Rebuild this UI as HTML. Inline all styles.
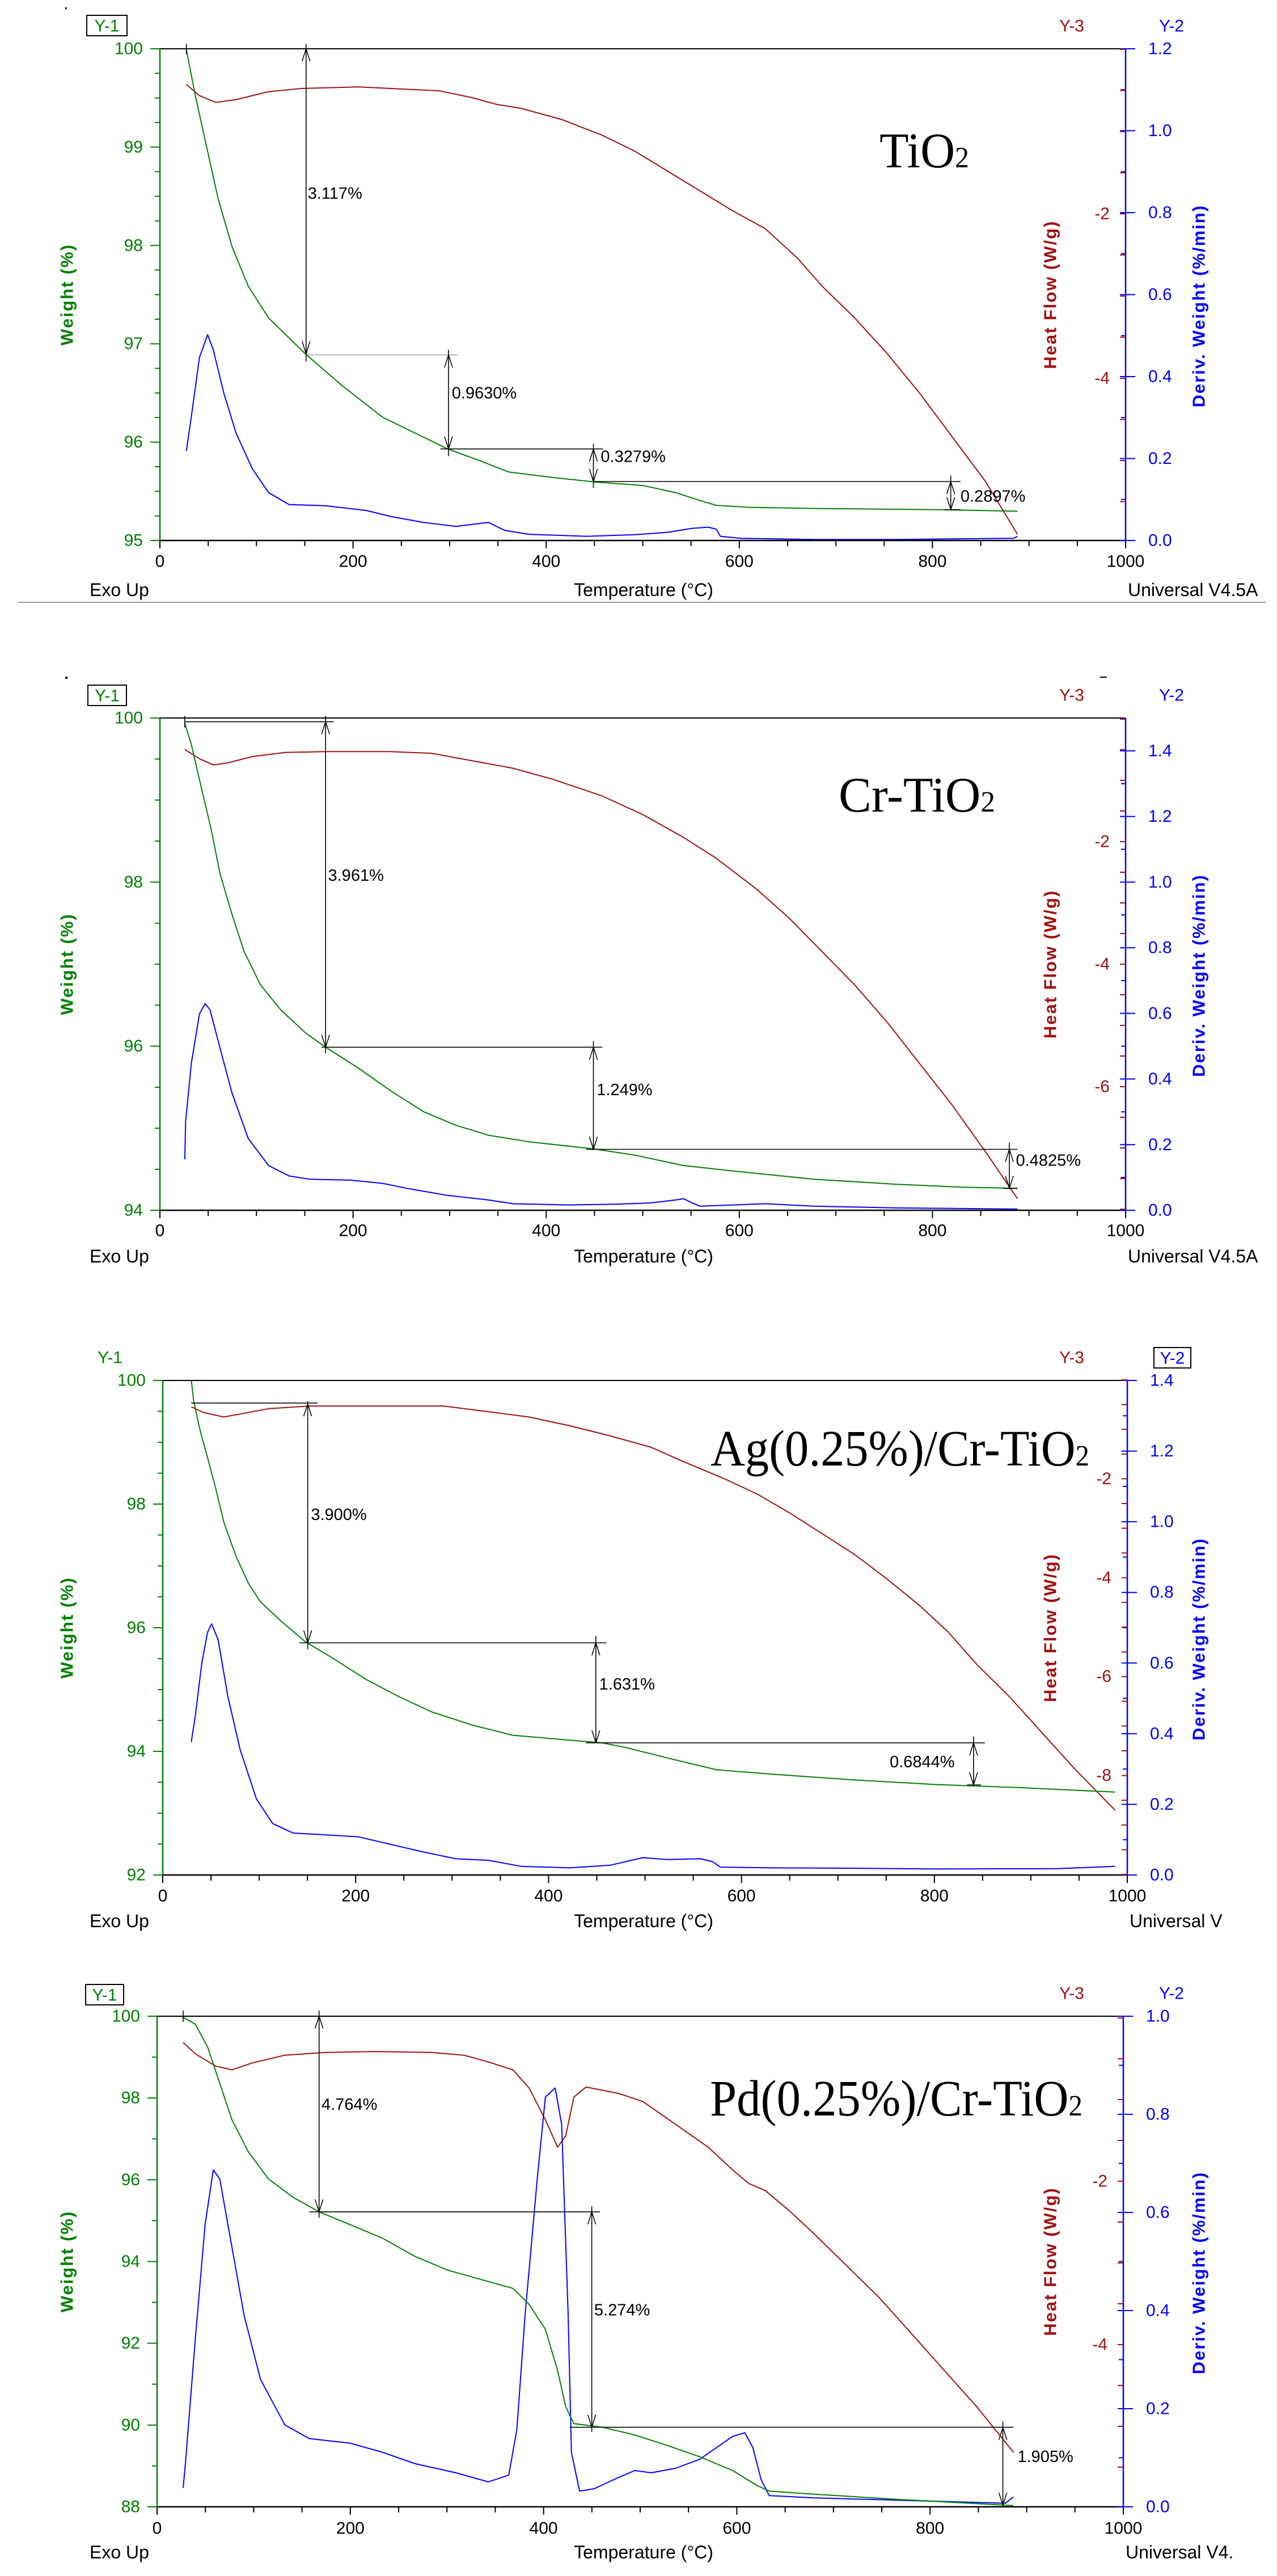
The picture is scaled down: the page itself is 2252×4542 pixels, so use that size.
<!DOCTYPE html>
<html><head><meta charset="utf-8">
<style>
html,body{margin:0;padding:0;background:#fff;}
svg{display:block;}
text{font-family:"Liberation Sans",Arial,sans-serif;}
text.ttl{font-family:"Liberation Serif","Times New Roman",serif;}
</style></head>
<body>
<svg id="s" xmlns="http://www.w3.org/2000/svg" width="2252" height="4542" viewBox="0 0 2252 4542">
<rect width="2252" height="4542" fill="#fff"/>
<line x1="32" y1="1062" x2="2232" y2="1062" stroke="#999" stroke-width="2"/>
<rect x="1940" y="1193" width="12" height="2" fill="#000"/>
<rect x="115" y="13" width="3" height="3" fill="#000"/>
<rect x="115" y="1193" width="4" height="4" fill="#000"/>
<text class="ttl" style="font-family:'Liberation Serif',serif" x="1551" y="295" font-size="88" textLength="158" lengthAdjust="spacingAndGlyphs">TiO<tspan font-size="52">2</tspan></text>
<text class="ttl" style="font-family:'Liberation Serif',serif" x="1479" y="1431" font-size="88" textLength="276" lengthAdjust="spacingAndGlyphs">Cr-TiO<tspan font-size="52">2</tspan></text>
<text class="ttl" style="font-family:'Liberation Serif',serif" x="1253" y="2584" font-size="90" textLength="668" lengthAdjust="spacingAndGlyphs">Ag(0.25%)/Cr-TiO<tspan font-size="52">2</tspan></text>
<text class="ttl" style="font-family:'Liberation Serif',serif" x="1252" y="3730" font-size="90" textLength="657" lengthAdjust="spacingAndGlyphs">Pd(0.25%)/Cr-TiO<tspan font-size="52">2</tspan></text>
</svg>
<script>
(function(){
const NS="http://www.w3.org/2000/svg", S=document.getElementById('s'), FX=1.4355;
const G='#008000', R='#a01010', B='#0000ff';
function el(t,a,txt){const e=document.createElementNS(NS,t);for(const k in a)e.setAttribute(k,a[k]);if(txt!==undefined)e.textContent=txt;S.appendChild(e);return e;}
function ln(x1,y1,x2,y2,c,w){el('line',{x1,y1,x2,y2,stroke:c,'stroke-width':w||2});}
function tx(s,x,y,o){const a=Object.assign({x,y,'font-size':30,'dominant-baseline':'central'},o||{});el('text',a,s);}
const plots=[
{oy:0.6,fy:0.7,xL:282,xR:1985,yT:86,yB:953,lmin:95,lmax:100,lmaj:1,lmin2:0.25,y2max:1.2,z3:87,s3:145,l3:[-2,-4],
 box1:[153,27,71,36],y1txt:null,y3y:46,y2box:null,xl:990,bot:1040,univ:"Universal V4.5A",
 green:[[229,125],[240,240],[255,380],[268,500],[285,620],[305,720],[330,800],[360,860],[375,890],[420,970],[470,1050],[520,1100],[550,1130],[590,1160],[625,1188],[680,1202],[730,1213],[790,1222],[830,1240],[860,1260],[880,1272],[920,1277],[1000,1280],[1160,1283],[1250,1287]],
 red:[[229,212],[245,240],[265,257],[290,250],[330,230],[370,222],[440,218],[540,228],[580,245],[610,262],[640,272],[690,300],[740,340],[780,380],[820,430],[860,480],[900,530],[940,575],[980,650],[1010,720],[1050,800],[1090,890],[1130,990],[1170,1100],[1210,1210],[1250,1345]],
 blue:[[229,1135],[235,1050],[245,900],[255,842],[262,880],[275,990],[290,1090],[310,1180],[330,1240],[355,1270],[400,1273],[450,1285],[480,1300],[520,1315],[560,1325],[580,1320],[600,1315],[620,1335],[650,1345],[720,1350],[780,1346],[820,1340],[850,1330],[870,1327],[880,1332],[885,1350],[910,1355],[1000,1358],[1100,1358],[1245,1355],[1250,1350]],
 arrows:[[376,110,910,122,890],[551,880,1148,893,1130],[729,1117,1228,1130,1212],[1168,1197,1285,1212,1283]],
 lines:[[376,893,563,893,'#aaa'],[541,1130,741,1130],[729,1212,1180,1212],[229,110,229,135],[1160,1283,1180,1283]],
 labels:[["3.117%",378,487],["0.9630%",555,990],["0.3279%",738,1150],["0.2897%",1180,1250]]},
{oy:1099.8,fy:0.732,xL:282,xR:1985,yT:1266,yB:2134,lmin:94,lmax:100,lmaj:2,lmin2:0.5,y2max:1.5,z3:1268,s3:108,l3:[-2,-4,-6],
 box1:[155,1208,68,36],y1txt:null,y3y:1226,y2box:null,xl:2170,bot:2215,univ:"Universal V4.5A",
 green:[[227,240],[235,290],[248,400],[260,500],[270,600],[285,700],[300,790],[320,870],[345,930],[375,985],[400,1020],[440,1070],[480,1125],[520,1175],[560,1208],[600,1232],[650,1248],[730,1265],[780,1280],[840,1305],[900,1318],[960,1330],[1000,1338],[1100,1350],[1180,1357],[1250,1360]],
 red:[[227,303],[245,325],[262,340],[280,335],[310,320],[350,310],[400,308],[480,308],[530,312],[580,330],[630,348],[680,375],[740,415],[790,460],[840,515],[880,565],[930,640],[970,710],[1010,790],[1050,870],[1090,960],[1130,1060],[1170,1160],[1210,1270],[1250,1385]],
 blue:[[227,1290],[228,1200],[235,1060],[245,940],[252,915],[258,930],[270,1020],[285,1130],[305,1240],[330,1305],[355,1330],[380,1338],[430,1340],[470,1348],[500,1360],[550,1377],[600,1388],[630,1397],[700,1400],[760,1398],[800,1395],[830,1388],[840,1385],[850,1395],[860,1403],[940,1397],[1000,1403],[1100,1407],[1250,1410]],
 arrows:[[400,222,1035,236,1020],[729,1005,1268,1020,1266],[1240,1250,1362,1266,1360]],
 lines:[[227,236,410,236],[395,1020,740,1020],[720,1266,1250,1266],[1232,1360,1250,1360],[227,222,227,250]],
 labels:[["3.961%",403,607],["1.249%",733,1123],["0.4825%",1248,1293]]},
{oy:2250,fy:0.668,xL:287,xR:1988,yT:2434,yB:3306,lmin:92,lmax:100,lmaj:2,lmin2:0.5,y2max:1.4,z3:2433,s3:87.2,l3:[-2,-4,-6,-8],
 box1:null,y1txt:[194,2394],y3y:2394,y2box:[2035,2376,65,36],xl:3343,bot:3387,univ:"Universal V",
 green:[[235,275],[238,330],[245,400],[255,480],[265,560],[275,650],[290,740],[305,810],[320,860],[345,910],[375,965],[410,1010],[450,1065],[490,1110],[530,1150],[580,1185],[630,1212],[700,1225],[740,1232],[770,1245],[820,1272],[880,1303],[950,1315],[1050,1330],[1150,1342],[1250,1350],[1370,1362]],
 red:[[235,345],[250,360],[275,372],[300,362],[330,350],[380,343],[460,343],[545,343],[600,358],[650,372],[700,395],[750,422],[800,452],[840,490],[890,535],[930,575],[970,625],[1010,680],[1050,735],[1090,800],[1130,870],[1165,940],[1200,1025],[1240,1110],[1280,1205],[1320,1300],[1370,1410]],
 blue:[[235,1230],[240,1160],[248,1020],[255,940],[260,918],[268,960],[280,1110],[295,1250],[315,1380],[335,1445],[360,1470],[400,1475],[440,1480],[470,1495],[520,1520],[560,1538],[600,1542],[640,1558],[700,1562],[750,1555],[790,1535],[820,1540],[860,1538],[875,1545],[885,1560],[950,1562],[1050,1563],[1150,1565],[1300,1564],[1370,1558]],
 arrows:[[378,330,985,337,968],[732,950,1232,968,1232],[1196,1215,1345,1232,1343]],
 lines:[[235,335,390,335],[368,968,745,968],[720,1232,1210,1232],[1188,1343,1205,1343]],
 labels:[["3.900%",382,630],["1.631%",736,1078],["0.6844%",1093,1283]]},
{oy:3280,fy:0.803,xL:277,xR:1981,yT:3555,yB:4420,lmin:88,lmax:100,lmaj:2,lmin2:1,y2max:1.0,z3:3558,s3:144,l3:[-2,-4],
 box1:[151,3499,67,36],y1txt:null,y3y:3515,y2box:null,xl:4458,bot:4500,univ:"Universal V4.",
 green:[[225,345],[240,360],[255,410],[270,490],[285,570],[305,640],[330,700],[360,740],[392,772],[430,800],[470,830],[510,870],[550,900],[600,925],[630,940],[650,975],[670,1030],[685,1120],[695,1200],[705,1237],[740,1245],[780,1262],[820,1285],[860,1310],[900,1340],[930,1373],[945,1385],[1000,1392],[1100,1403],[1245,1417]],
 red:[[225,400],[240,425],[265,452],[285,460],[310,445],[350,428],[400,422],[460,420],[530,422],[570,428],[600,443],[630,460],[650,500],[670,570],[685,630],[695,605],[705,520],[720,498],[760,512],[790,530],[830,580],[870,630],[900,680],[920,710],[940,725],[970,770],[1000,820],[1040,890],[1080,960],[1120,1040],[1160,1120],[1200,1200],[1245,1300]],
 blue:[[225,1378],[228,1320],[240,1050],[252,800],[262,680],[270,700],[285,850],[300,1000],[320,1140],[350,1240],[380,1270],[430,1280],[470,1300],[510,1325],[560,1345],[600,1365],[625,1350],[635,1250],[645,1000],[660,700],[670,520],[682,500],[690,580],[698,1000],[702,1300],[712,1385],[730,1380],[760,1355],[780,1340],[800,1345],[830,1335],[860,1315],[880,1290],[900,1265],[915,1257],[925,1290],[935,1360],[945,1395],[1000,1400],[1100,1405],[1200,1410],[1235,1412],[1245,1398]],
 arrows:[[392,330,785,342,772],[727,760,1255,772,1245],[1232,1232,1418,1245,1416]],
 lines:[[380,772,737,772],[700,1245,1245,1245],[225,330,225,355]],
 labels:[["4.764%",395,537],["5.274%",730,988],["1.905%",1250,1310]]}
];
plots.forEach(p=>{
 const X=x=>x*FX, Y=y=>p.oy+y*p.fy;
 const {xL,xR,yT,yB}=p, mid=(yT+yB)/2;
 [['red',R],['blue',B],['green',G]].forEach(([k,c])=>{
  el('polyline',{points:p[k].map(q=>X(q[0]).toFixed(1)+','+Y(q[1]).toFixed(1)).join(' '),fill:'none',stroke:c,'stroke-width':2,'stroke-linejoin':'round'});
 });
 ln(xL,yT,xR,yT,'#000',2); ln(xL,yB,xR,yB,'#000',2.5);
 ln(xL,yT,xL,yB,G,2.5); ln(xR,yT,xR,yB,B,2.5);
 const n=Math.round((p.lmax-p.lmin)/p.lmin2);
 for(let i=0;i<=n;i++){const v=p.lmin+i*p.lmin2, y=yB-(v-p.lmin)/(p.lmax-p.lmin)*(yB-yT);
  const maj=Math.abs((v-p.lmin)/p.lmaj-Math.round((v-p.lmin)/p.lmaj))<1e-6;
  ln(maj?xL-17:xL-9,y,xL,y,G,2);
  if(maj) tx(String(Math.round(v)),xL-30,y,{'text-anchor':'end',fill:G});}
 const n2=Math.round(p.y2max/0.1);
 for(let i=0;i<=n2;i++){const v=i*0.1,y=yB-v/p.y2max*(yB-yT);const maj=i%2==0;
  ln(maj?xR-10:xR-8,y,maj?xR+17:xR,y,B,2);
  if(maj) tx(v.toFixed(1),xR+40,y,{fill:B});}
 for(let v=0;;v-=0.5){const y=p.z3-v*p.s3; if(y>yB+1)break; if(y<yT-1)continue; ln(xR-10,y,xR,y,R,2);}
 p.l3.forEach(v=>tx(String(v),xR-28,p.z3-v*p.s3,{'text-anchor':'end',fill:R}));
 for(let T=0;T<=1000;T+=50){const x=xL+T/1000*(xR-xL);ln(x,yB,x,yB+(T%200==0?14:10),'#000',2);
  if(T%200==0) tx(String(T),x,p.xl,{'text-anchor':'middle',fill:'#000'});}
 el('text',{x:0,y:0,'font-size':31,'font-weight':'bold',fill:G,'letter-spacing':2,'text-anchor':'middle','dominant-baseline':'central',transform:`translate(118,${mid}) rotate(-90)`},'Weight (%)');
 el('text',{x:0,y:0,'font-size':31,'font-weight':'bold',fill:R,'letter-spacing':2,'text-anchor':'middle','dominant-baseline':'central',transform:`translate(1852,${mid}) rotate(-90)`},'Heat Flow (W/g)');
 el('text',{x:0,y:0,'font-size':31,'font-weight':'bold',fill:B,'letter-spacing':2,'text-anchor':'middle','dominant-baseline':'central',transform:`translate(2114,${mid+20}) rotate(-90)`},'Deriv. Weight (%/min)');
 if(p.box1){const b=p.box1;el('rect',{x:b[0],y:b[1],width:b[2],height:b[3],fill:'none',stroke:'#000','stroke-width':2});tx('Y-1',b[0]+b[2]/2,b[1]+b[3]/2+1,{'text-anchor':'middle',fill:G});}
 if(p.y1txt) tx('Y-1',p.y1txt[0],p.y1txt[1],{'text-anchor':'middle',fill:G});
 tx('Y-3',1890,p.y3y,{'text-anchor':'middle',fill:R});
 if(p.y2box){const b=p.y2box;el('rect',{x:b[0],y:b[1],width:b[2],height:b[3],fill:'none',stroke:'#000','stroke-width':2});tx('Y-2',b[0]+b[2]/2,b[1]+b[3]/2+1,{'text-anchor':'middle',fill:B});}
 else tx('Y-2',2066,p.y3y,{'text-anchor':'middle',fill:B});
 tx('Exo Up',158,p.bot,{fill:'#000','font-size':32});
 tx('Temperature (°C)',1135,p.bot,{fill:'#000','font-size':32,'text-anchor':'middle'});
 tx(p.univ,xR+4,p.bot,{fill:'#000','font-size':32});
 p.lines.forEach(l=>ln(X(l[0]),Y(l[1]),X(l[2]),Y(l[3]),l[4]||'#000',1.6));
 p.arrows.forEach(a=>{const x=X(a[0]);ln(x,Y(a[1]),x,Y(a[2]),'#000',1.6);
  const t=Y(a[3]),b=Y(a[4]);
  ln(x,t,x-7,t+22,'#000',1.5);ln(x,t,x+7,t+22,'#000',1.5);
  ln(x,b,x-7,b-22,'#000',1.5);ln(x,b,x+7,b-22,'#000',1.5);});
 p.labels.forEach(l=>tx(l[0],X(l[1]),Y(l[2]),{fill:'#000','font-size':29}));
});
})();
</script>
</body></html>
